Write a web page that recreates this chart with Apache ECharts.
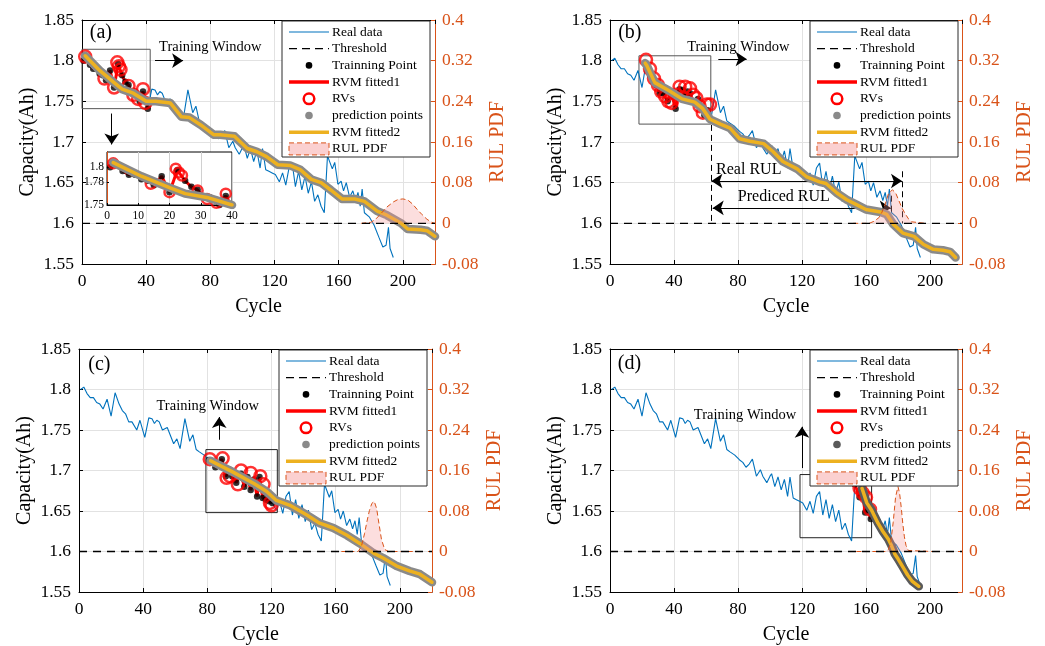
<!DOCTYPE html>
<html>
<head>
<meta charset="utf-8">
<script src="https://cdn.jsdelivr.net/npm/echarts@6/dist/echarts.min.js"></script>
<style>
  html, body { margin: 0; padding: 0; background: #fff; }
  #chart { width: 1045px; height: 646px; }
</style>
</head>
<body>
<div id="chart"></div>
<script>
// measured capacity (real data)
const realCycle = [1,3,5,7,9,11,13,15,17.5,20,22.5,25,27,29,31,33,36,38,41,43.5,45.5,47,48.5,50,52,55,59,61,63,66,69,71,73,75,78,81,83,85,87,89,91.5,94,95.5,98,100,101,103,105,107,109,111,112.5,114.5,116.5,118.5,120.5,123,125,127,129,131,133,135,137,139,141,143,145,147,149,151,153,156,157.5,159.5,161.5,163,164.7,166.8,168.8,170.5,172,173.4,174.6,176,179,182,185,187.5,189.5,191,192,194];
const realCap = [1.800,1.803,1.795,1.790,1.790,1.784,1.782,1.776,1.788,1.767,1.796,1.782,1.774,1.770,1.760,1.760,1.750,1.762,1.741,1.765,1.764,1.758,1.762,1.760,1.750,1.753,1.733,1.739,1.727,1.764,1.736,1.744,1.726,1.723,1.719,1.713,1.710,1.704,1.708,1.714,1.693,1.701,1.693,1.685,1.693,1.696,1.680,1.692,1.676,1.689,1.668,1.692,1.666,1.664,1.662,1.660,1.651,1.662,1.647,1.668,1.674,1.645,1.664,1.641,1.658,1.637,1.651,1.627,1.635,1.621,1.613,1.683,1.667,1.675,1.648,1.652,1.640,1.650,1.632,1.640,1.628,1.638,1.621,1.642,1.613,1.608,1.598,1.583,1.571,1.573,1.595,1.569,1.558];

const thresholdCycle = [0, 220];
const thresholdCap = [1.6, 1.6];

// training windows (cycles)
const trainWinA = [1, 41];
const trainWinB = [22, 62];
const trainWinC = [81, 121];
const trainWinD = [153, 163];

// relevance vectors
const rvCycleA = [2, 14, 20, 22, 23, 24, 29, 32, 35, 38, 39.5];
const rvCapA = [1.805, 1.778, 1.767, 1.798, 1.793, 1.789, 1.769, 1.758, 1.753, 1.765, 1.748];
const rvCycleB = [22.5, 25, 27.5, 30, 32, 34.5, 36.5, 38.5, 41.5, 43.5, 47, 50, 52, 54, 56, 58, 60.5, 62.5];
const rvCapB = [1.801, 1.790, 1.778, 1.770, 1.762, 1.756, 1.750, 1.748, 1.758, 1.768, 1.768, 1.766, 1.758, 1.754, 1.744, 1.736, 1.746, 1.746];
const rvCycleC = [81.5, 89.5, 92, 94, 99, 101, 107, 113, 115, 119, 120];
const rvCapC = [1.714, 1.715, 1.691, 1.693, 1.683, 1.700, 1.697, 1.693, 1.683, 1.660, 1.657];
const rvCycleD = [156, 158, 160, 162.5];
const rvCapD = [1.678, 1.672, 1.667, 1.652];

// RVM fitted2 / prediction points
const fitCycleA = [2, 11, 20, 25, 32, 40, 46, 55, 62, 67, 74, 82, 86, 95, 103, 109, 115, 122, 130, 136, 143, 149, 155, 162, 170, 176, 184, 190, 199, 203, 211, 215, 220];
const fitCapA = [1.806, 1.788, 1.773, 1.765, 1.760, 1.750, 1.750, 1.748, 1.731, 1.730, 1.721, 1.709, 1.709, 1.707, 1.692, 1.688, 1.682, 1.672, 1.671, 1.666, 1.654, 1.650, 1.641, 1.630, 1.630, 1.627, 1.615, 1.610, 1.600, 1.593, 1.592, 1.591, 1.584];
const fitCycleB = [22, 23, 28, 37, 45, 53, 58, 62.5, 69, 75, 81, 87.5, 96, 102, 108, 117, 123, 131, 135, 142, 148, 154, 160, 169, 173, 177, 183, 190, 196, 202, 208, 212.5, 216];
const fitCapB = [1.797, 1.794, 1.773, 1.763, 1.753, 1.749, 1.741, 1.728, 1.722, 1.717, 1.704, 1.701, 1.698, 1.688, 1.676, 1.667, 1.657, 1.651, 1.649, 1.637, 1.629, 1.623, 1.617, 1.614, 1.611, 1.599, 1.588, 1.584, 1.574, 1.568, 1.567, 1.565, 1.558];
const fitCycleC = [82, 96, 109, 117, 123, 131.5, 142, 150, 158.5, 167, 175, 183.5, 189.5, 198, 206, 212.5, 220];
const fitCapC = [1.712, 1.698, 1.684, 1.674, 1.663, 1.657, 1.645, 1.635, 1.629, 1.620, 1.610, 1.598, 1.592, 1.582, 1.576, 1.572, 1.562];
const fitCycleD = [157.5, 160.5, 163.5, 165.5, 167.5, 170.5, 174, 176, 178, 180, 183, 186, 189, 193];
const fitCapD = [1.678, 1.660, 1.651, 1.643, 1.635, 1.625, 1.615, 1.607, 1.597, 1.591, 1.581, 1.571, 1.563, 1.557];

// RUL PDF
const pdfCycleA = [174, 180, 183, 186, 190, 194, 197, 200, 203, 206, 209, 212, 215, 218, 220];
const pdfA = [0, 0.002, 0.008, 0.018, 0.032, 0.042, 0.047, 0.048, 0.046, 0.038, 0.027, 0.017, 0.008, 0.002, 0];
const pdfCycleB = [152, 162, 165, 168, 170, 172, 174, 176.5, 178.5, 180.5, 182.5, 184.5, 186.5, 188.5, 197];
const pdfB = [0, 0, 0.004, 0.011, 0.022, 0.038, 0.058, 0.066, 0.060, 0.045, 0.030, 0.019, 0.009, 0.003, 0];
const pdfCycleC = [158.5, 174, 176, 178, 179.5, 181, 182.5, 184, 185.5, 186.5, 188.5, 190.5, 193, 208];
const pdfC = [0, 0, 0.010, 0.036, 0.060, 0.081, 0.095, 0.099, 0.085, 0.064, 0.024, 0.004, 0, 0];
const pdfCycleD = [154, 172, 174, 175.5, 177, 178.5, 180, 181, 182, 183, 184, 185, 186.5, 201.5];
const pdfD = [0, 0, 0.004, 0.018, 0.058, 0.108, 0.128, 0.115, 0.088, 0.055, 0.029, 0.012, 0.002, 0];

const insetYTicks = [1.75, 1.78, 1.8];
const legendNames = ['Real data', 'Threshold', 'Trainning Point', 'RVM fitted1', 'RVs', 'prediction points', 'RVM fitted2', 'RUL PDF'];

const FONT = 'Liberation Serif';
const BLUE = '#0072BD', ORANGE = '#D95319', GOLD = '#EDB120', RED = '#FF0000';
const GRIDC = '#e2e2e2';

const zip = (xs, ys) => xs.map((x, i) => [x, ys[i]]);
const train = w => zip(realCycle, realCap).filter(p => p[0] >= w[0] && p[0] <= w[1]);

const grids = [
  {left: 82, top: 20, width: 353, height: 244},
  {left: 610, top: 20, width: 352, height: 244},
  {left: 79, top: 349, width: 353, height: 244},
  {left: 610, top: 349, width: 352, height: 244}
];

const panels = [
  {tag: '(a)', tagAt: [4.5, 1.834], win: trainWinA, rv: zip(rvCycleA, rvCapA), fit: zip(fitCycleA, fitCapA),
   pdf: zip(pdfCycleA, pdfA), pred: '#8a8a8a', boxColor: '#555', box: [[0, 1.741], [42.5, 1.814]],
   texts: [['Training Window', [47.7, 1.817], 14.5]],
   arrows: [[[45.5, 1.8], [63, 1.8], false], [[18.5, 1.735], [18.5, 1.697], false]], dashes: []},
  {tag: '(b)', tagAt: [4.8, 1.834], win: trainWinB, rv: zip(rvCycleB, rvCapB), fit: zip(fitCycleB, fitCapB),
   pdf: zip(pdfCycleB, pdfB), pred: '#8a8a8a', boxColor: '#555', box: [[18.1, 1.722], [63, 1.806]],
   texts: [['Training Window', [47.9, 1.817], 14.5], ['Real RUL', [66, 1.6655], 16], ['Prediced RUL', [79.6, 1.6327], 16]],
   arrows: [[[67.7, 1.802], [85.4, 1.802], false], [[63.4, 1.652], [182.5, 1.652], true], [[64.2, 1.619], [175.5, 1.619], true]],
   dashes: [[[63, 1.721], [63, 1.6]], [[182.5, 1.664], [182.5, 1.6]], [[176, 1.634], [176, 1.6]]]},
  {tag: '(c)', tagAt: [5.5, 1.831], win: trainWinC, rv: zip(rvCycleC, rvCapC), fit: zip(fitCycleC, fitCapC),
   pdf: zip(pdfCycleC, pdfC), pred: '#8a8a8a', boxColor: '#222', box: [[79.1, 1.648], [123.6, 1.7258]],
   texts: [['Training Window', [48, 1.780], 14.5]],
   arrows: [[[87.4, 1.738], [87.4, 1.766], false]], dashes: []},
  {tag: '(d)', tagAt: [4.6, 1.832], win: trainWinD, rv: zip(rvCycleD, rvCapD), fit: zip(fitCycleD, fitCapD),
   pdf: zip(pdfCycleD, pdfD), pred: '#5a5a5a', boxColor: '#222', box: [[118.75, 1.617], [163.5, 1.695]],
   texts: [['Training Window', [52.1, 1.7688], 14.5]],
   arrows: [[[120, 1.703], [120, 1.754], false]], dashes: []}
];

const xAxis = [], yAxis = [], series = [], graphic = [];
const labelStyle = {fontFamily: FONT, fontSize: 17.5, color: '#000'};

grids.forEach((g, i) => {
  xAxis[i] = {gridIndex: i, type: 'value', min: 0, max: 220, interval: 40,
    name: 'Cycle', nameLocation: 'middle', nameGap: 33,
    nameTextStyle: {fontFamily: FONT, fontSize: 20, color: '#000'},
    axisLine: {onZero: false, lineStyle: {color: '#000', width: 1}},
    axisTick: {inside: true, length: 4, lineStyle: {color: '#000'}},
    axisLabel: Object.assign({margin: 8, showMaxLabel: false}, labelStyle),
    splitLine: {show: true, lineStyle: {color: GRIDC, width: 1}}};
  xAxis[4 + i] = {gridIndex: i, type: 'value', position: 'top', min: 0, max: 220, interval: 40,
    axisLine: {onZero: false, lineStyle: {color: '#000', width: 1}},
    axisTick: {inside: true, length: 4, lineStyle: {color: '#000'}},
    axisLabel: {show: false}, splitLine: {show: false}};
  yAxis[i] = {gridIndex: i, type: 'value', min: 1.55, max: 1.85, interval: 0.05,
    name: 'Capacity(Ah)', nameLocation: 'middle', nameGap: 44,
    nameTextStyle: {fontFamily: FONT, fontSize: 20, color: '#000'},
    axisLine: {show: true, onZero: false, lineStyle: {color: '#000', width: 1}},
    axisTick: {show: true, inside: true, length: 4, lineStyle: {color: '#000'}},
    axisLabel: Object.assign({margin: 8}, labelStyle),
    splitLine: {show: true, lineStyle: {color: GRIDC, width: 1}}};
  yAxis[4 + i] = {gridIndex: i, type: 'value', position: 'right', min: -0.08, max: 0.4, interval: 0.08,
    name: 'RUL PDF', nameLocation: 'middle', nameGap: 53,
    nameTextStyle: {fontFamily: FONT, fontSize: 20, color: ORANGE},
    axisLine: {show: true, onZero: false, lineStyle: {color: ORANGE, width: 1}},
    axisTick: {show: true, inside: true, length: 4, lineStyle: {color: ORANGE}},
    axisLabel: {margin: 7, fontFamily: FONT, fontSize: 17.5, color: ORANGE},
    splitLine: {show: false}};
});

// inset axes for (a)
xAxis[8] = {gridIndex: 4, type: 'value', min: 0, max: 40, interval: 10, z: 3,
  axisLine: {onZero: false, lineStyle: {color: '#000', width: 1}},
  axisTick: {inside: true, length: 2, lineStyle: {color: '#000'}},
  axisLabel: {margin: 5, fontFamily: FONT, fontSize: 11.5, color: '#000'},
  splitLine: {show: true, lineStyle: {color: '#d0d0d0'}}};
yAxis[8] = {gridIndex: 4, type: 'value', min: 1.75, max: 1.82, z: 3,
  axisLine: {show: true, onZero: false, lineStyle: {color: '#000', width: 1}},
  axisTick: {show: true, inside: true, length: 2, customValues: insetYTicks, lineStyle: {color: '#000'}},
  axisLabel: {margin: 3, fontFamily: FONT, fontSize: 11.5, color: '#000', customValues: insetYTicks},
  splitLine: {show: false}};
yAxis[9] = {gridIndex: 4, type: 'value', position: 'right', min: 0, max: 1, z: 3,
  axisLine: {show: true, lineStyle: {color: ORANGE, width: 1}},
  axisTick: {show: false}, axisLabel: {show: false}, splitLine: {show: false}};

function panelSeries(p, xi, yi, yr, withExtras) {
  const out = [];
  if (withExtras) {
    out.push({type: 'line', xAxisIndex: xi, yAxisIndex: yi, data: zip(realCycle, realCap), symbol: 'none',
      lineStyle: {color: BLUE, width: 1.1}, z: 2});
  }
  out.push({type: 'line', xAxisIndex: xi, yAxisIndex: yi, data: train(p.win), symbol: 'none',
    lineStyle: {color: RED, width: 3}, z: 4});
  out.push({type: 'scatter', xAxisIndex: xi, yAxisIndex: yi, data: train(p.win), symbol: 'circle',
    symbolSize: 6.5, itemStyle: {color: '#000'}, z: 5});
  out.push({type: 'scatter', xAxisIndex: xi, yAxisIndex: yi, data: p.rv, symbol: 'circle',
    symbolSize: withExtras ? 12 : 10,
    itemStyle: {color: 'rgba(0,0,0,0)', borderColor: RED, borderWidth: 2.5}, z: 6});
  const fit = withExtras ? p.fit : p.fit.filter(q => q[0] <= 40);
  out.push({type: 'line', xAxisIndex: xi, yAxisIndex: yi, data: fit, symbol: 'none',
    lineStyle: {color: p.pred, width: 8.5, cap: 'round', join: 'round'}, z: 7});
  out.push({type: 'line', xAxisIndex: xi, yAxisIndex: yi, data: fit, symbol: 'none',
    lineStyle: {color: GOLD, width: 3.5, cap: 'round', join: 'round'}, z: 8});
  if (withExtras) {
    out.push({type: 'line', xAxisIndex: xi, yAxisIndex: yr, data: p.pdf, symbol: 'none',
      lineStyle: {color: ORANGE, width: 1, type: [5, 3]},
      areaStyle: {color: 'rgba(246,150,150,0.45)', origin: 0}, z: 9});
    const arrowData = p.arrows.map(a => [
      {coord: a[0], symbol: a[2] ? 'arrow' : 'none', symbolSize: 11},
      {coord: a[1], symbol: 'arrow', symbolSize: 11}
    ]);
    const dashData = p.dashes.map(d => [
      {coord: d[0], symbol: 'none', lineStyle: {type: [6, 4], color: '#000', width: 1}},
      {coord: d[1], symbol: 'none', lineStyle: {type: [6, 4], color: '#000', width: 1}}
    ]);
    const texts = [[p.tag, p.tagAt, 20]].concat(p.texts);
    out.push({type: 'line', xAxisIndex: xi, yAxisIndex: yi, data: zip(thresholdCycle, thresholdCap), symbol: 'none',
      lineStyle: {color: '#000', width: 1.3, type: [8, 6]}, z: 10,
      markLine: {silent: true, animation: false, symbol: ['none', 'none'], label: {show: false},
        lineStyle: {color: '#000', width: 1, type: 'solid'}, emphasis: {disabled: true},
        data: arrowData.concat(dashData)},
      markArea: {silent: true, animation: false, label: {show: false},
        itemStyle: {color: 'rgba(0,0,0,0)', borderColor: p.boxColor, borderWidth: 1},
        data: [[{coord: p.box[0]}, {coord: p.box[1]}]]},
      markPoint: {silent: true, animation: false, symbol: 'rect', symbolSize: 1,
        itemStyle: {color: 'rgba(0,0,0,0)'},
        data: texts.map(t => ({coord: t[1], label: {show: true, position: 'right', distance: 0,
          formatter: t[0], fontFamily: FONT, fontSize: t[2], color: '#000'}}))}
    });
  }
  return out;
}

panels.forEach((p, i) => {
  series.push(...panelSeries(p, i, i, 4 + i, true));
});
series.push(...panelSeries(panels[0], 8, 8, 9, false));

// legend boxes
function legendFor(g, predColor) {
  const x0 = g.left + 200, y0 = g.top + 1;
  const ry = k => y0 + 11 + k * 16.7;
  const sx1 = x0 + 7, sx2 = x0 + 47, sc = x0 + 27, tx = x0 + 50;
  const els = [];
  els.push({type: 'rect', z: 100, shape: {x: x0, y: y0, width: 148, height: 136},
    style: {fill: '#fff', stroke: '#2b2b2b', lineWidth: 1}});
  els.push({type: 'line', z: 101, shape: {x1: sx1, y1: ry(0), x2: sx2, y2: ry(0)}, style: {stroke: BLUE, lineWidth: 1.1}});
  els.push({type: 'line', z: 101, shape: {x1: sx1, y1: ry(1), x2: sx2, y2: ry(1)}, style: {stroke: '#000', lineWidth: 1.3, lineDash: [8, 5]}});
  els.push({type: 'circle', z: 101, shape: {cx: sc, cy: ry(2), r: 3.3}, style: {fill: '#000'}});
  els.push({type: 'line', z: 101, shape: {x1: sx1, y1: ry(3), x2: sx2, y2: ry(3)}, style: {stroke: RED, lineWidth: 3.5}});
  els.push({type: 'circle', z: 101, shape: {cx: sc, cy: ry(4), r: 5.3}, style: {fill: 'none', stroke: RED, lineWidth: 2.5}});
  els.push({type: 'circle', z: 101, shape: {cx: sc, cy: ry(5), r: 3.8}, style: {fill: predColor}});
  els.push({type: 'line', z: 101, shape: {x1: sx1, y1: ry(6), x2: sx2, y2: ry(6)}, style: {stroke: GOLD, lineWidth: 3.5}});
  els.push({type: 'rect', z: 101, shape: {x: sx1, y: ry(7) - 6, width: 40, height: 12},
    style: {fill: 'rgba(246,150,150,0.45)', stroke: ORANGE, lineWidth: 1, lineDash: [5, 3]}});
  legendNames.forEach((n, k) => {
    els.push({type: 'text', z: 101, style: {text: n, x: tx, y: ry(k), fill: '#000',
      font: '13.5px "Liberation Serif"', verticalAlign: 'middle', align: 'left'}});
  });
  return els;
}
grids.forEach((g, i) => graphic.push(...legendFor(g, panels[i].pred)));

const option = {
  animation: false,
  textStyle: {fontFamily: FONT},
  grid: grids.concat([{left: 107, top: 152, width: 125, height: 53, show: true,
    backgroundColor: '#fff', borderColor: '#000', borderWidth: 1, z: 1}]),
  xAxis, yAxis, series, graphic
};

const chart = echarts.init(document.getElementById('chart'), null, {renderer: 'canvas'});
chart.setOption(option);
</script>
</body>
</html>
